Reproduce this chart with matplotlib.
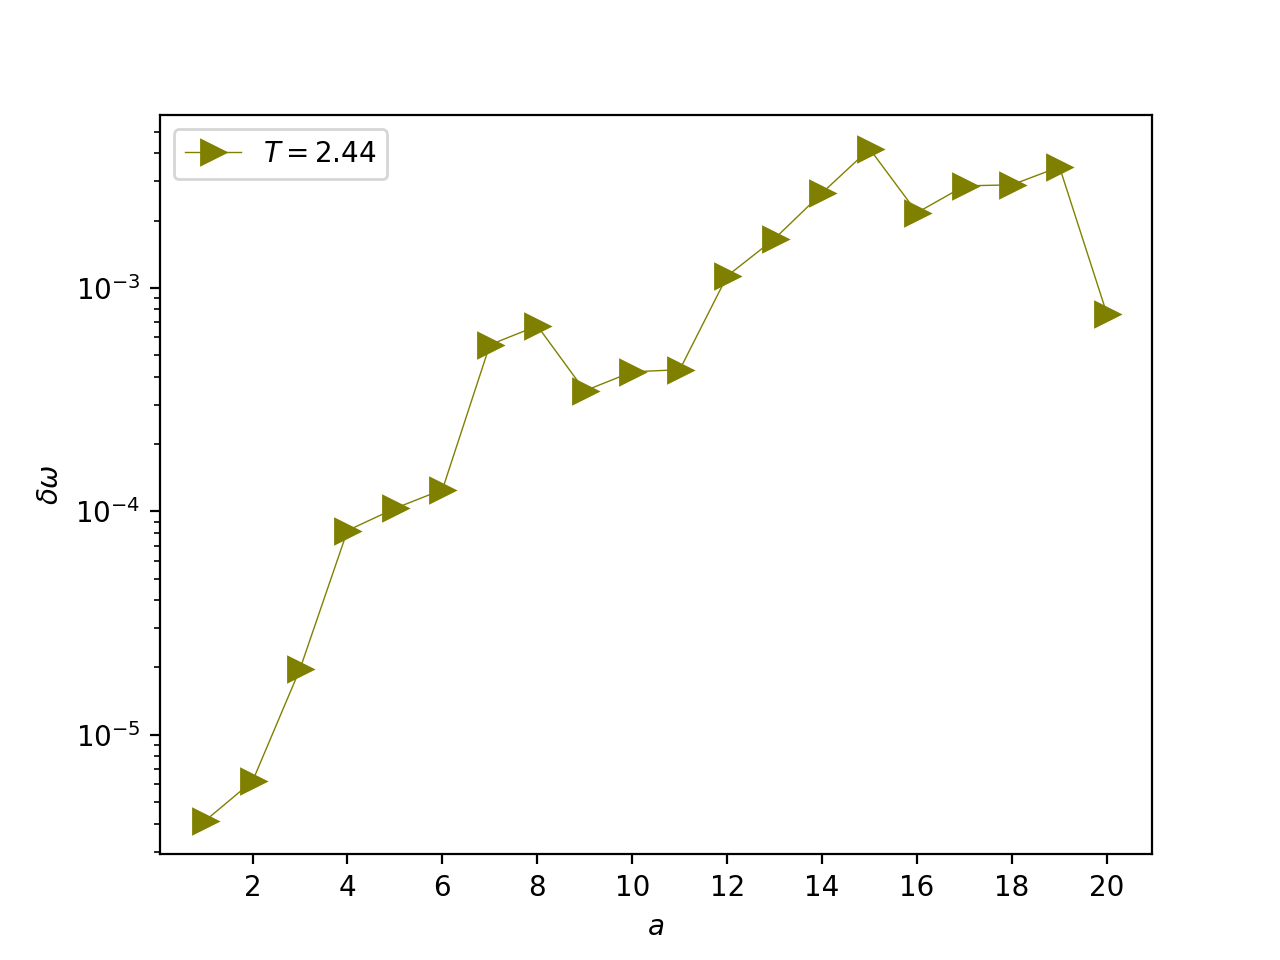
import matplotlib
matplotlib.use('Agg')
import matplotlib.pyplot as plt

a = [1, 2, 3, 4, 5, 6, 7, 8, 9, 10, 11, 12, 13, 14, 15, 16, 17, 18, 19, 20]
dw = [4.12e-6, 6.2e-6, 1.97e-5, 8.2e-5, 1.03e-4, 1.25e-4, 5.56e-4, 6.76e-4,
      3.46e-4, 4.21e-4, 4.3e-4, 1.13e-3, 1.66e-3, 2.66e-3, 4.19e-3, 2.17e-3,
      2.86e-3, 2.89e-3, 3.48e-3, 7.65e-4]

plt.figure(figsize=(6.4, 4.8), dpi=200)
plt.plot(a, dw, '>-', color='olive', lw=0.5, ms=8.5, label=r'$T = 2.44$')
plt.yscale('log')
plt.xticks([2, 4, 6, 8, 10, 12, 14, 16, 18, 20])
plt.xlabel(r'$a$')
plt.ylabel(r'$\delta\omega$')
plt.legend(loc='upper left')
plt.savefig('out.png')
